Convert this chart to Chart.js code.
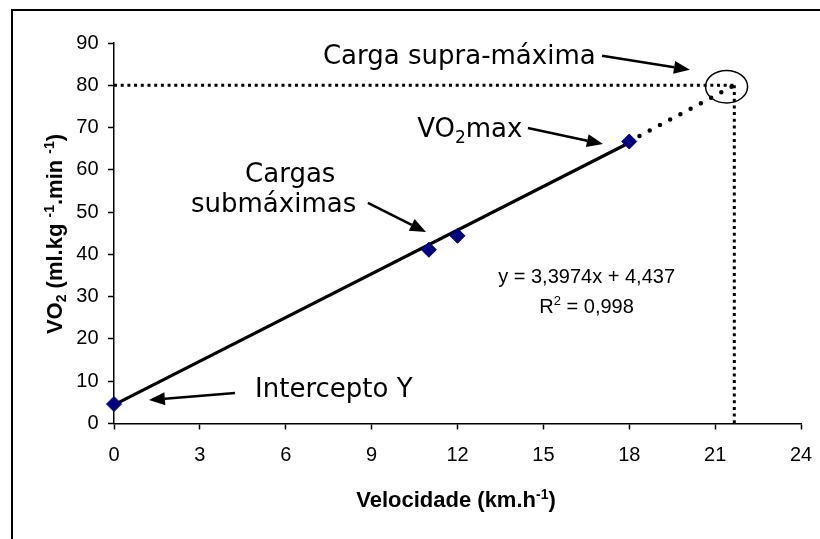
<!DOCTYPE html>
<html><head><meta charset="utf-8">
<script src="https://cdn.jsdelivr.net/npm/chart.js@4/dist/chart.umd.min.js"></script>
<style>html,body{margin:0;padding:0;background:#fff;overflow:hidden;}canvas{display:block;}</style>
</head><body>
<canvas id="c" width="820" height="539"></canvas>
<script>
// ---- data ----
const velocidade = [0, 11, 12, 18];
const vo2 = [4.6, 41.1, 44.4, 66.7];
const trendX = [0, 18];
const trendY = [4.4, 66.4];
const extX = [18, 21.67];
const extY = [66.7, 80];
const supraX = [0, 21.67];
const supraY = [80, 80];
const vertX = [21.67, 21.67];
const vertY = [80, 0];
const xTicks = [0, 3, 6, 9, 12, 15, 18, 21, 24];
const yTicks = [0, 10, 20, 30, 40, 50, 60, 70, 80, 90];

const pts = (xs, ys) => xs.map((x, i) => ({x: x, y: ys[i]}));

const ANN_FONT = '"DejaVu Sans", Verdana, sans-serif';
const ARIAL = '"Liberation Sans", Arial, sans-serif';

// annotations, positioned in data units
const texts = [
  {t: 'Carga supra-máxima', x: 7.30, y: 85.03},
  {t: 'Cargas', x: 4.58, y: 57.12},
  {t: 'submáximas', x: 2.69, y: 50.03},
  {t: 'Intercepto Y', x: 4.93, y: 6.27}
];
const arrows = [
  {x0: 17.05, y0: 86.96, x1: 20.12, y1: 83.65},
  {x0: 14.46, y0: 69.89, x1: 17.08, y1: 66.11},
  {x0: 8.87, y0: 52.16, x1: 10.90, y1: 45.30},
  {x0: 4.23, y0: 7.21, x1: 1.22, y1: 5.56}
];

function drawRich(ctx, parts, x, y, align) {
  let total = 0;
  parts.forEach(p => { ctx.font = p.f; p.w = ctx.measureText(p.t).width; total += p.w; });
  let cx = align === 'center' ? x - total / 2 : x;
  ctx.textAlign = 'left';
  ctx.textBaseline = 'alphabetic';
  parts.forEach(p => { ctx.font = p.f; ctx.fillText(p.t, cx, y + (p.dy || 0)); cx += p.w; });
}

const annotPlugin = {
  id: 'annot',
  beforeDraw(chart) {
    const ctx = chart.ctx;
    ctx.save();
    ctx.fillStyle = '#fff';
    ctx.fillRect(0, 0, chart.width, chart.height);
    ctx.strokeStyle = '#000';
    ctx.lineWidth = 2;
    ctx.beginPath();
    ctx.moveTo(12, chart.height + 2);
    ctx.lineTo(12, 10);
    ctx.lineTo(chart.width + 2, 10);
    ctx.stroke();
    ctx.restore();
  },
  afterDatasetsDraw(chart) {
    const ctx = chart.ctx;
    const xs = chart.scales.x, ys = chart.scales.y;
    const X = v => xs.getPixelForValue(v), Y = v => ys.getPixelForValue(v);
    ctx.save();
    // circle around supra-maximal point
    ctx.strokeStyle = '#000';
    ctx.lineWidth = 1.5;
    ctx.beginPath();
    ctx.ellipse(X(21.40), Y(79.66), 21, 16.3, 0, 0, Math.PI * 2);
    ctx.stroke();
    // arrows
    ctx.fillStyle = '#000';
    arrows.forEach(a => {
      const x0 = X(a.x0), y0 = Y(a.y0), x1 = X(a.x1), y1 = Y(a.y1);
      const ang = Math.atan2(y1 - y0, x1 - x0);
      const L = 16, H = 6.5;
      const bx = x1 - L * Math.cos(ang), by = y1 - L * Math.sin(ang);
      ctx.lineWidth = 2.5;
      ctx.beginPath(); ctx.moveTo(x0, y0); ctx.lineTo(bx, by); ctx.stroke();
      ctx.beginPath();
      ctx.moveTo(x1, y1);
      ctx.lineTo(bx + H * Math.sin(ang), by - H * Math.cos(ang));
      ctx.lineTo(bx - H * Math.sin(ang), by + H * Math.cos(ang));
      ctx.closePath(); ctx.fill();
    });
    // labels
    ctx.fillStyle = '#000';
    ctx.textAlign = 'left';
    ctx.textBaseline = 'alphabetic';
    ctx.font = '26px ' + ANN_FONT;
    texts.forEach(t => ctx.fillText(t.t, X(t.x), Y(t.y)));
    drawRich(ctx, [
      {t: 'VO', f: '26px ' + ANN_FONT},
      {t: '2', f: '17px ' + ANN_FONT, dy: 6},
      {t: 'max', f: '26px ' + ANN_FONT}
    ], X(10.59), Y(67.76), 'left');
    // regression equation
    ctx.font = '20px ' + ARIAL;
    ctx.textAlign = 'center';
    ctx.fillText('y = 3,3974x + 4,437', X(16.51), Y(33.23));
    drawRich(ctx, [
      {t: 'R', f: '20px ' + ARIAL},
      {t: '2', f: '13px ' + ARIAL, dy: -8},
      {t: ' = 0,998', f: '20px ' + ARIAL}
    ], X(16.51), Y(26.14), 'center');
    // axis titles
    const B = 'bold 22px ' + ARIAL, BS = 'bold 14px ' + ARIAL;
    drawRich(ctx, [
      {t: 'Velocidade (km.h', f: B},
      {t: '-1', f: BS, dy: -8},
      {t: ')', f: B}
    ], 456, 507, 'center');
    ctx.translate(61.5, 234);
    ctx.rotate(-Math.PI / 2);
    drawRich(ctx, [
      {t: 'VO', f: B},
      {t: '2', f: BS, dy: 4},
      {t: ' (ml.kg ', f: B},
      {t: '-1', f: BS, dy: -8},
      {t: '.min ', f: B},
      {t: '-1', f: BS, dy: -8},
      {t: ')', f: B}
    ], 0, 0, 'center');
    ctx.restore();
  }
};

const axisCommon = {
  type: 'linear',
  grid: {drawOnChartArea: false, drawTicks: true, tickLength: 6, tickWidth: 1.5, tickColor: '#000', color: '#000'},
  border: {display: true, color: '#000', width: 1.5},
  ticks: {color: '#000', font: {family: ARIAL, size: 20}}
};

new Chart(document.getElementById('c'), {
  type: 'scatter',
  data: {
    datasets: [
      {label: 'VO2', data: pts(velocidade, vo2), pointStyle: 'rectRot', pointRadius: 7.5,
       backgroundColor: '#000080', borderColor: '#000080', borderWidth: 1, showLine: false, clip: false},
      {label: 'trend', data: pts(trendX, trendY), showLine: true, borderColor: '#000', borderWidth: 3.2,
       pointRadius: 0, clip: false},
      {label: 'ext', data: pts(extX, extY), showLine: true, borderColor: '#000', borderWidth: 4.5,
       borderDash: [0, 11.6], borderCapStyle: 'round', pointRadius: 0, clip: false},
      {label: 'h80', data: pts(supraX, supraY), showLine: true, borderColor: '#000', borderWidth: 3,
       borderDash: [3, 3.7], borderCapStyle: 'butt', pointRadius: 0, clip: false},
      {label: 'v', data: pts(vertX, vertY), showLine: true, borderColor: '#000', borderWidth: 3,
       borderDash: [3, 3.7], borderCapStyle: 'butt', pointRadius: 0, clip: false}
    ]
  },
  options: {
    responsive: false,
    animation: false,
    devicePixelRatio: 1,
    layout: {padding: {left: 0, right: 19, top: 43, bottom: 0}},
    plugins: {legend: {display: false}, tooltip: {enabled: false}, title: {display: false}},
    scales: {
      x: Object.assign({}, axisCommon, {
        min: 0, max: 24,
        afterBuildTicks: s => { s.ticks = xTicks.map(v => ({value: v})); },
        afterFit: s => { s.height = 115.5; s.paddingLeft = 0; s.paddingRight = 0; },
        ticks: Object.assign({}, axisCommon.ticks, {padding: 14, maxRotation: 0})
      }),
      y: Object.assign({}, axisCommon, {
        min: 0, max: 90,
        afterBuildTicks: s => { s.ticks = yTicks.map(v => ({value: v})); },
        afterFit: s => { s.width = 114; s.paddingTop = 0; s.paddingBottom = 0; },
        ticks: Object.assign({}, axisCommon.ticks, {padding: 9.5})
      })
    }
  },
  plugins: [annotPlugin]
});
</script>
</body></html>
